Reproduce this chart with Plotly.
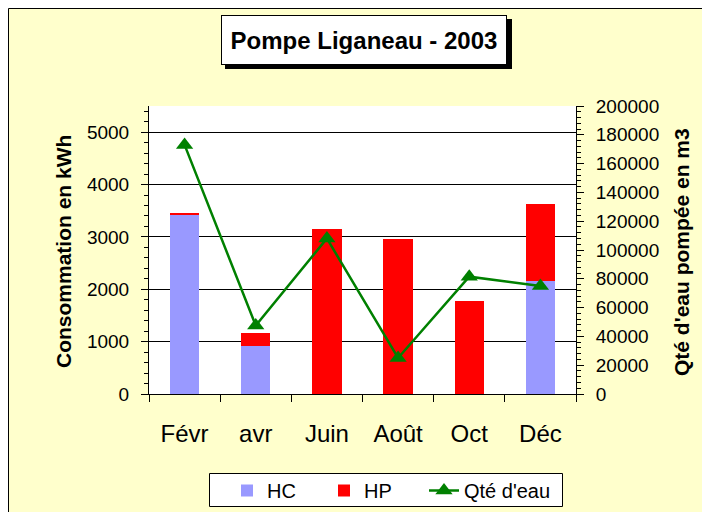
import plotly.graph_objects as go

months = ["Févr", "avr", "Juin", "Août", "Oct", "Déc"]
hc = [3420, 920, 0, 0, 0, 2160]
hp = [20, 250, 3155, 2965, 1780, 1470]
water = [173000, 47500, 108000, 25000, 81500, 75000]

FONT = "Liberation Sans, Arial, sans-serif"

# the page shows the figure with an 8 px body margin, so compensate
OFF = 8
# plot-area frame in screen pixels
SL, SR, ST, SB = 149, 576, 106, 394
L, R, T, B = SL - OFF, SR - OFF, ST - OFF, SB - OFF
W, H = 710, 512

def px(x):
    return (x - OFF - L) / (R - L)

def py(y):
    return (B - (y - OFF)) / (B - T)

fig = go.Figure()
fig.add_trace(go.Bar(x=months, y=hc, name="HC", legend="legend",
                     marker=dict(color="#9999FF", line=dict(width=0))))
fig.add_trace(go.Bar(x=months, y=hp, name="HP", legend="legend",
                     marker=dict(color="#FF0000", line=dict(width=0))))
fig.add_trace(go.Scatter(x=months, y=water, name="Qté d'eau", yaxis="y2", legend="legend2",
                         mode="lines+markers",
                         line=dict(color="#008000", width=2.5),
                         marker=dict(symbol="triangle-up", size=15, color="#008000")))

leg_common = dict(orientation="h", xanchor="left", yanchor="top",
                  bgcolor="rgba(0,0,0,0)", borderwidth=0,
                  font=dict(size=20, family=FONT), traceorder="normal")

fig.update_layout(
    width=W, height=H,
    margin=dict(l=L, r=W - R, t=T, b=H - B, pad=0, autoexpand=False),
    paper_bgcolor="white", plot_bgcolor="white",
    barmode="stack", bargap=0.59,
    font=dict(family=FONT, color="black", size=19),
    showlegend=True,
    legend=dict(x=px(227), y=py(471), entrywidth=52, entrywidthmode="pixels", **leg_common),
    legend2=dict(x=px(424), y=py(471), **leg_common),
    xaxis=dict(type="category", showline=True, linecolor="black", linewidth=1,
               ticks="outside", tickson="boundaries", ticklen=7, tickcolor="black",
               tickfont=dict(size=24), ticklabelstandoff=18, showgrid=False, automargin=False),
    yaxis=dict(range=[0, 5500], dtick=1000, tick0=0, showline=True, linecolor="black", linewidth=1,
               ticks="outside", ticklen=7, tickcolor="black", tickfont=dict(size=19),
               ticklabelstandoff=8, automargin=False,
               showgrid=True, gridcolor="black", gridwidth=1, zeroline=False,
               minor=dict(dtick=200, ticks="outside", ticklen=4, tickcolor="black", showgrid=False)),
    yaxis2=dict(range=[0, 200000], dtick=20000, tick0=0, overlaying="y", side="right",
                showline=True, linecolor="black", linewidth=1, tickformat="d",
                ticks="outside", ticklen=7, tickcolor="black", tickfont=dict(size=19),
                ticklabelstandoff=8, automargin=False,
                showgrid=False, zeroline=False,
                minor=dict(dtick=4000, ticks="outside", ticklen=4, tickcolor="black", showgrid=False)),
    shapes=[
        dict(type="rect", xref="paper", yref="paper", layer="below",
             x0=px(8.5), x1=px(730), y0=py(8.5), y1=py(540),
             fillcolor="#FFFFCC", line=dict(color="black", width=1)),
        dict(type="rect", xref="paper", yref="paper", layer="below",
             x0=0, x1=1, y0=0, y1=1, fillcolor="white", line=dict(width=0)),
        # title shadow
        dict(type="rect", xref="paper", yref="paper", layer="below",
             x0=px(225), x1=px(512), y0=py(19), y1=py(69),
             fillcolor="black", line=dict(width=0)),
        # legend frame
        dict(type="rect", xref="paper", yref="paper", layer="below",
             x0=px(209.5), x1=px(562.5), y0=py(473.5), y1=py(506.5),
             fillcolor="white", line=dict(color="black", width=1)),
    ],
    annotations=[
        dict(text="<b>Pompe Liganeau - 2003</b>", x=px(364), y=py(40), xref="paper", yref="paper",
             showarrow=False, xanchor="center", yanchor="middle", width=282, height=46,
             font=dict(size=24, family=FONT, color="black"), bgcolor="white",
             bordercolor="black", borderwidth=1),
        dict(text="<b>Consommation en kWh</b>", x=px(63), y=py(252), xref="paper", yref="paper",
             showarrow=False, textangle=-90, xanchor="center", yanchor="middle",
             font=dict(size=21, family=FONT, color="black")),
        dict(text="<b>Qté d'eau pompée en m3</b>", x=px(681), y=py(252), xref="paper", yref="paper",
             showarrow=False, textangle=-90, xanchor="center", yanchor="middle",
             font=dict(size=21, family=FONT, color="black")),
    ],
)

fig.write_html("out.html")
